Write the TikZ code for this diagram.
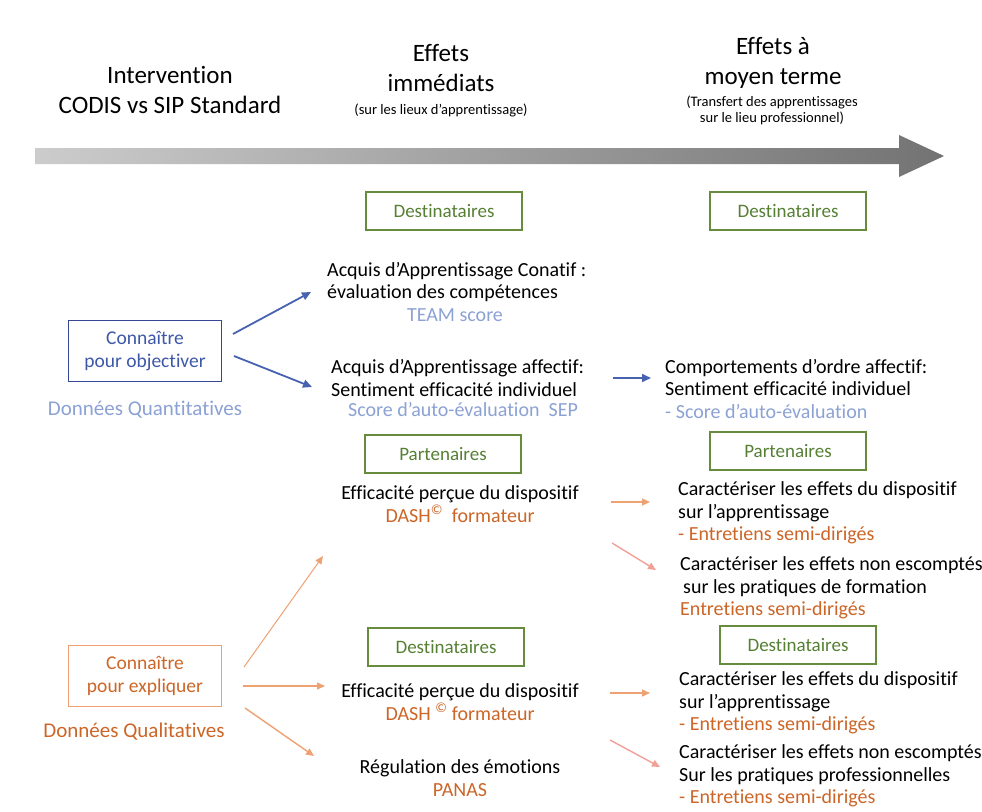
\documentclass[tikz,border=0pt]{standalone}
\usepackage{fontspec}
\setmainfont{Carlito}[Ligatures=NoCommon]
\usetikzlibrary{arrows.meta}
\definecolor{grnline}{RGB}{104,140,62}
\definecolor{grntext}{RGB}{86,128,52}
\definecolor{bluline}{RGB}{52,72,150}
\definecolor{blutext}{RGB}{62,88,168}
\definecolor{ltblue}{RGB}{140,162,212}
\definecolor{arrblue}{RGB}{72,98,178}
\definecolor{orng}{RGB}{204,102,40}
\definecolor{orgline}{RGB}{238,160,112}
\definecolor{arrorange}{RGB}{238,162,116}
\definecolor{arrpink}{RGB}{240,160,150}

\begin{document}
\begin{tikzpicture}[x=1pt,y=-1pt,
	greenbox/.style={draw=grnline,line width=1.6pt,text=grntext,minimum width=156pt,minimum height=38pt,font=\fontsize{19}{22}\selectfont},
	leftbox/.style={line width=1.6pt,align=center,minimum width=153pt,minimum height=61pt,font=\fontsize{19.5}{23}\selectfont},
	txt/.style={align=left,anchor=west,inner sep=0pt,font=\fontsize{20}{22.5}\selectfont},
	ctxt/.style={align=center,inner sep=0pt,font=\fontsize{20}{22.5}\selectfont},
	head/.style={align=center,inner sep=0pt,font=\fontsize{25}{30}\selectfont},
	small/.style={align=center,inner sep=0pt,font=\fontsize{14.5}{16}\selectfont},
	bluearr/.style={draw=arrblue,line width=1.8pt,-{Triangle[length=9pt,width=8pt]}},
	orgarr/.style={draw=arrorange,line width=1.4pt,-{Triangle[length=8pt,width=7pt]}},
	pinkarr/.style={draw=arrpink,line width=1.4pt,-{Triangle[length=8pt,width=7pt]}}]

\useasboundingbox[fill=white] (0,0) rectangle (982,811);

% timeline
\node[head] (interv) at (170,90) {Intervention\\CODIS vs SIP Standard};
\node[head] (immed) at (441,68) {Effets\\immédiats};
\node[small] (lieux) at (441,110) {(sur les lieux d’apprentissage)};
\node[head] (moyen) at (773,63) {Effets à\\moyen terme};
\node[small] (transf) at (772,110) {(Transfert des apprentissages\\sur le lieu professionnel)};
\shade[left color=black!20,right color=black!55] (35,148) -- (899,148) -- (899,135) -- (944,156) -- (899,177) -- (899,164) -- (35,164) -- cycle;

\foreach \n/\x/\y/\t in {d1/444/211/Destinataires, d2/788/211/Destinataires, p1/443/454/Partenaires, p2/788/451/Partenaires, d3/446/647/Destinataires, d4/798/645/Destinataires}
	\node[greenbox] (\n) at (\x,\y) {\t};

% left
\node[leftbox,draw=bluline,text=blutext] (obj) at (145,351) {Connaître\\pour objectiver};
\node[ctxt,text=ltblue,font=\fontsize{21}{24}\selectfont] (quant) at (145,410) {Données Quantitatives};
\node[leftbox,draw=orgline,text=orng] (expl) at (145,676) {Connaître\\pour expliquer};
\node[ctxt,text=orng,font=\fontsize{21}{24}\selectfont] (qual) at (134,732) {Données Qualitatives};

% immediate
\node[txt] (conatif) at (327,282) {Acquis d’Apprentissage Conatif :\\évaluation des compétences};
\node[ctxt,text=ltblue] (team) at (455,315) {TEAM score};
\node[txt] (affectif) at (331,378) {Acquis d’Apprentissage affectif:\\Sentiment efficacité individuel};
\node[ctxt,text=ltblue] (sep) at (463,410) {Score d’auto-évaluation\ \ SEP};
\node[ctxt] (eff1) at (460,504) {Efficacité perçue du dispositif\\\textcolor{orng}{DASH\textsuperscript{©}\ \ formateur}};
\node[ctxt] (eff2) at (460,702) {Efficacité perçue du dispositif\\\textcolor{orng}{DASH \textsuperscript{©} formateur}};
\node[ctxt] (regul) at (460,778) {Régulation des émotions\\\textcolor{orng}{PANAS}};

% medium term
\node[txt] (compo) at (665,389) {Comportements d’ordre affectif:\\Sentiment efficacité individuel\\\textcolor{ltblue}{- Score d’auto-évaluation}};
\node[txt] (car1) at (678,513) {Caractériser les effets du dispositif\\sur l’apprentissage\\\textcolor{orng}{- Entretiens semi-dirigés}};
\node[txt] (car2) at (680,588) {Caractériser les effets non escomptés\\\hspace*{3pt}sur les pratiques de formation\\\textcolor{orng}{Entretiens semi-dirigés}};
\node[txt] (car3) at (679,703) {Caractériser les effets du dispositif\\sur l’apprentissage\\\textcolor{orng}{- Entretiens semi-dirigés}};
\node[txt] (car4) at (679,776) {Caractériser les effets non escomptés\\Sur les pratiques professionnelles\\\textcolor{orng}{- Entretiens semi-dirigés}};

% arrow ends
\foreach \n/\x/\y in {objup/233/334, conin/311/292, objdn/234/356, affin/312/387, affout/613/378, compin/651/378,
		eff1out/611/502, car1in/650/502, eff1dn/612/543, car2in/656/570,
		explup/244/667, eff1in/323/556, explrt/243/686, eff2in/325/686, expldn/245/708, regin/314/756,
		eff2out/610/693, car3in/650/693, eff2dn/610/740, car4in/660/767}
	\coordinate (\n) at (\x,\y);

\foreach \a/\b in {objup/conin, objdn/affin, affout/compin}
	\draw[bluearr] (\a) -- (\b);
\foreach \a/\b in {eff1out/car1in, explrt/eff2in, expldn/regin, eff2out/car3in}
	\draw[orgarr] (\a) -- (\b);
\draw[orgarr,line width=1pt] (explup) -- (eff1in);
\draw[pinkarr] (eff1dn) -- (car2in);
\draw[pinkarr] (eff2dn) -- (car4in);
\end{tikzpicture}
\end{document}
